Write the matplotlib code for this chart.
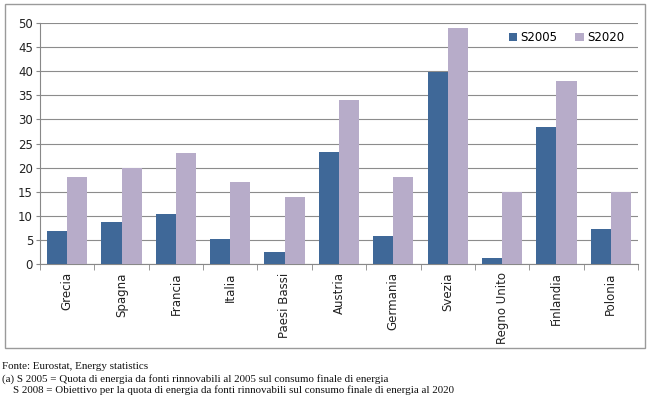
import matplotlib
matplotlib.use("Agg")
import matplotlib.pyplot as plt
from matplotlib.patches import Rectangle
import numpy as np

countries = ["Grecia", "Spagna", "Francia", "Italia", "Paesi Bassi", "Austria",
             "Germania", "Svezia", "Regno Unito", "Finlandia", "Polonia"]
s2005 = [6.9, 8.7, 10.3, 5.2, 2.4, 23.3, 5.8, 39.8, 1.3, 28.5, 7.2]
s2020 = [18, 20, 23, 17, 14, 34, 18, 49, 15, 38, 15]
yticks = list(range(0, 51, 5))
notes = ["Fonte: Eurostat, Energy statistics",
         "(a) S 2005 = Quota di energia da fonti rinnovabili al 2005 sul consumo finale di energia",
         "    S 2008 = Obiettivo per la quota di energia da fonti rinnovabili sul consumo finale di energia al 2020"]

c_blue = "#3F6898"
c_lav = "#B7ACC9"

fig = plt.figure(figsize=(6.5, 3.97), dpi=100)
fig.patches.append(Rectangle((0.0077, 0.1234), 0.9846, 0.8666, transform=fig.transFigure,
                             fill=False, edgecolor="#9a9a9a", linewidth=1.0))
ax = fig.add_axes([0.0615, 0.335, 0.92, 0.607])
x = np.arange(len(countries))
w = 0.37
ax.bar(x - w/2, s2005, w, color=c_blue, label="S2005", zorder=3)
ax.bar(x + w/2, s2020, w, color=c_lav, label="S2020", zorder=3)
ax.set_xlim(-0.5, len(countries) - 0.5)
ax.set_ylim(0, 50)
ax.set_yticks(yticks)
ax.tick_params(axis="y", labelsize=8.5, length=3, color="#888888", pad=2, labelcolor="#222222")
ax.set_xticks(x)
ax.set_xticklabels(countries, rotation=90, fontsize=8.5, color="#222222")
ax.tick_params(axis="x", which="major", length=0, pad=6)
ax.set_xticks(np.arange(-0.5, len(countries), 1), minor=True)
ax.tick_params(axis="x", which="minor", length=4, color="#888888", direction="out")
ax.grid(axis="y", color="#8c8c8c", linewidth=0.8, zorder=0)
for s in ["top", "right"]:
    ax.spines[s].set_visible(False)
for s in ["left", "bottom"]:
    ax.spines[s].set_color("#888888")
ax.legend(loc="upper right", bbox_to_anchor=(0.995, 1.01), frameon=False, fontsize=8.5,
          handlelength=0.7, handleheight=0.7, handletextpad=0.3, ncol=2, columnspacing=1.5)

ys = [0.078, 0.046, 0.016]
for t, yy in zip(notes, ys):
    fig.text(0.003, yy, t, fontsize=7.9, family="Liberation Serif", ha="left", va="center",
             color="#111111")

fig.savefig("out.png", dpi=100)
